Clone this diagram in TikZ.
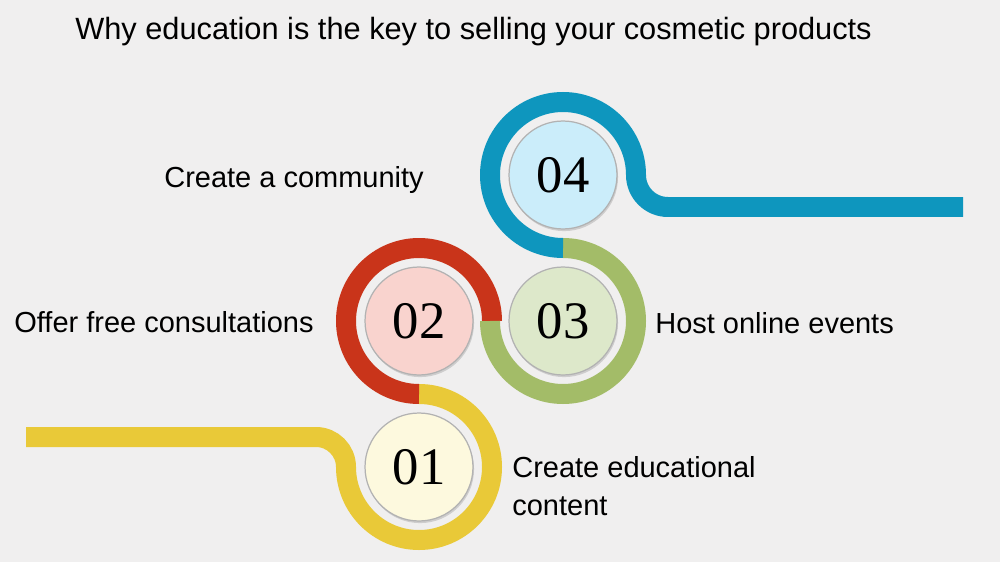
\documentclass[tikz,border=0pt]{standalone}
\usepackage{fontspec}
\setmainfont{Liberation Sans}
\newfontfamily\numfont{Liberation Serif}
\usetikzlibrary{calc,shadows}

\definecolor{bgcol}{RGB}{240,239,239}
\definecolor{yelc}{RGB}{233,201,56}
\definecolor{redc}{RGB}{201,52,26}
\definecolor{grnc}{RGB}{163,188,104}
\definecolor{bluc}{RGB}{14,150,190}
\definecolor{yelf}{RGB}{253,249,222}
\definecolor{redf}{RGB}{249,211,206}
\definecolor{grnf}{RGB}{221,232,202}
\definecolor{bluf}{RGB}{203,237,250}

\begin{document}
\begin{tikzpicture}[x=0.02cm,y=0.02cm,
  band/.style={line width=0.4cm},
  disc/.style={circle,draw=gray!60,line width=0.7pt,minimum size=2.16cm,inner sep=0pt,
    font=\numfont\fontsize{30}{31}\selectfont,
    drop shadow={shadow xshift=0.6pt,shadow yshift=-1.2pt,opacity=0.3}},
  itemtext/.style={inner sep=0pt,font=\fontsize{16.5}{21.6}\selectfont}]
\fill[bgcol] (0,0) rectangle (1000,562);
\useasboundingbox (0,0) rectangle (1000,562);

% title
\node[inner sep=0pt,anchor=base west,font=\fontsize{17.5}{21}\selectfont] (title) at (75,522)
  {Why education is the key to selling your cosmetic products};

% discs
\node[disc,fill=yelf] (d1) at (419,95) {01};
\node[disc,fill=redf] (d2) at (419,241) {02};
\node[disc,fill=grnf] (d3) at (563,241) {03};
\node[disc,fill=bluf] (d4) at (563,387) {04};

% bands
\coordinate (ystart) at (26,125);
\coordinate (bend) at (963,355);
\draw[band,yelc] (ystart) -- ++(290,0) arc[start angle=90,end angle=0,radius=30]
  arc[start angle=180,end angle=450,radius=73];
\draw[band,redc] ($(d2.center)+(270:73)$) arc[start angle=270,end angle=0,radius=73];
\draw[band,grnc] ($(d3.center)+(180:73)$) arc[start angle=180,end angle=450,radius=73];
\draw[band,bluc] ($(d4.center)+(270:73)$) arc[start angle=270,end angle=0,radius=73]
  arc[start angle=180,end angle=270,radius=32] -- (bend);

% labels
\node[itemtext,anchor=base west,align=left] (t1) at (512,47) {Create educational\\content};
\node[itemtext,anchor=base west] (t2) at (14,230) {Offer free consultations};
\node[itemtext,anchor=base west] (t3) at (655,229) {Host online events};
\node[itemtext,anchor=base west] (t4) at (164,375) {Create a community};
\end{tikzpicture}
\end{document}
